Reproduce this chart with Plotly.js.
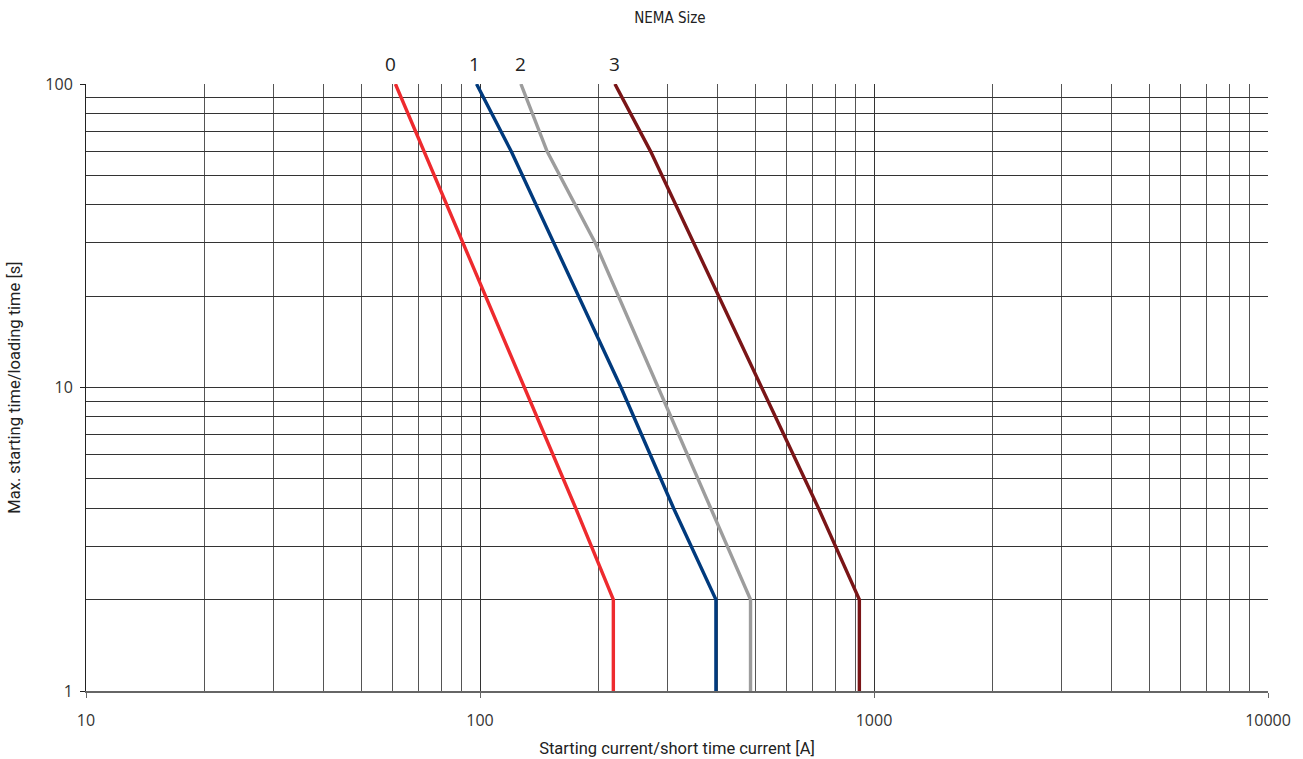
<!DOCTYPE html>
<html>
<head>
<meta charset="utf-8">
<script src="https://cdn.plot.ly/plotly-3.0.1.min.js"></script>
<style>html,body{margin:0;padding:0;background:#fff}#chart{width:1303px;height:759px}</style>
</head>
<body>
<div id="chart"></div>
<script>
// NEMA sizes (series names)
const sizes = ['0', '1', '2', '3'];
const colors = ['#ee2a2e', '#003a7d', '#9d9d9d', '#7a1517'];

// Size 0  (time [s] vs current [A])
const time0 = [100, 4, 2, 1];
const current0 = [61, 175, 218, 218];
// Size 1
const time1 = [100, 60, 10, 4, 2, 1];
const current1 = [98, 120, 228, 310, 397, 397];
// Size 2
const time2 = [100, 60, 30, 2, 1];
const current2 = [127, 148, 196, 486, 486];
// Size 3
const time3 = [100, 60, 4, 2, 1];
const current3 = [220, 271, 723, 918, 918];

// Axis tick labels
const xTicks = [10, 100, 1000, 10000];
const yTicks = [1, 10, 100];

const times = [time0, time1, time2, time3];
const currents = [current0, current1, current2, current3];

function minorVals(lo, hi) {
  const v = [];
  for (let d = lo; d < hi; d *= 10) for (let m = 2; m <= 9; m++) v.push(d * m);
  return v;
}

const traces = sizes.map((s, i) => ({
  type: 'scatter', mode: 'lines', name: s,
  x: currents[i], y: times[i],
  line: {color: colors[i], width: 3.4},
  hoverinfo: 'x+y+name'
}));

const labelShift = [-5, -2, 0, 0];
const annotations = sizes.map((s, i) => ({
  x: Math.log10(currents[i][0]), y: Math.log10(times[i][0]),
  xref: 'x', yref: 'y', text: s, showarrow: false,
  xanchor: 'center', yanchor: 'bottom', yshift: 5, xshift: labelShift[i],
  font: {family: 'Open Sans, DejaVu Sans, sans-serif', size: 19, color: '#222'}
}));

const condensed = 'DejaVu Sans Condensed, Liberation Sans Narrow, Roboto, sans-serif';
const condensed2 = 'Roboto, sans-serif';

const layout = {
  width: 1303, height: 759,
  margin: {l: 86, r: 35, t: 84, b: 68},
  paper_bgcolor: '#fff', plot_bgcolor: '#fff',
  showlegend: false,
  title: {text: 'NEMA Size', x: 0.494, xref: 'paper', y: 0.977, yanchor: 'middle',
          font: {family: condensed, size: 15, color: '#222'}},
  xaxis: {
    type: 'log', range: [1, 4],
    tickvals: xTicks, ticktext: xTicks.map(String),
    ticks: 'outside', ticklen: 5, tickcolor: '#666',
    ticklabelstandoff: 9,
    showline: true, linecolor: '#666', linewidth: 1.5,
    showgrid: true, gridcolor: '#333', gridwidth: 1,
    minor: {tickvals: minorVals(10, 10000), showgrid: true, gridcolor: '#555', gridwidth: 1, ticks: ''},
    tickfont: {family: 'Open Sans, DejaVu Sans, sans-serif', size: 16, color: '#333'},
    title: {text: 'Starting current/short time current [A]', standoff: 12,
            font: {family: condensed2, size: 16.5, color: '#222'}},
    zeroline: false
  },
  yaxis: {
    type: 'log', range: [0, 2],
    tickvals: yTicks, ticktext: yTicks.map(String),
    ticks: 'outside', ticklen: 5, tickcolor: '#222',
    ticklabelstandoff: 4,
    showline: true, linecolor: '#222', linewidth: 1,
    showgrid: true, gridcolor: '#333', gridwidth: 1,
    minor: {tickvals: minorVals(1, 100), showgrid: true, gridcolor: '#333', gridwidth: 1, ticks: ''},
    tickfont: {family: 'Open Sans, DejaVu Sans, sans-serif', size: 16, color: '#333'},
    title: {text: 'Max. starting time/loading time [s]', standoff: 20,
            font: {family: condensed2, size: 16.5, color: '#222'}},
    zeroline: false
  },
  annotations: annotations
};

Plotly.newPlot('chart', traces, layout, {displayModeBar: false});
</script>
</body>
</html>
